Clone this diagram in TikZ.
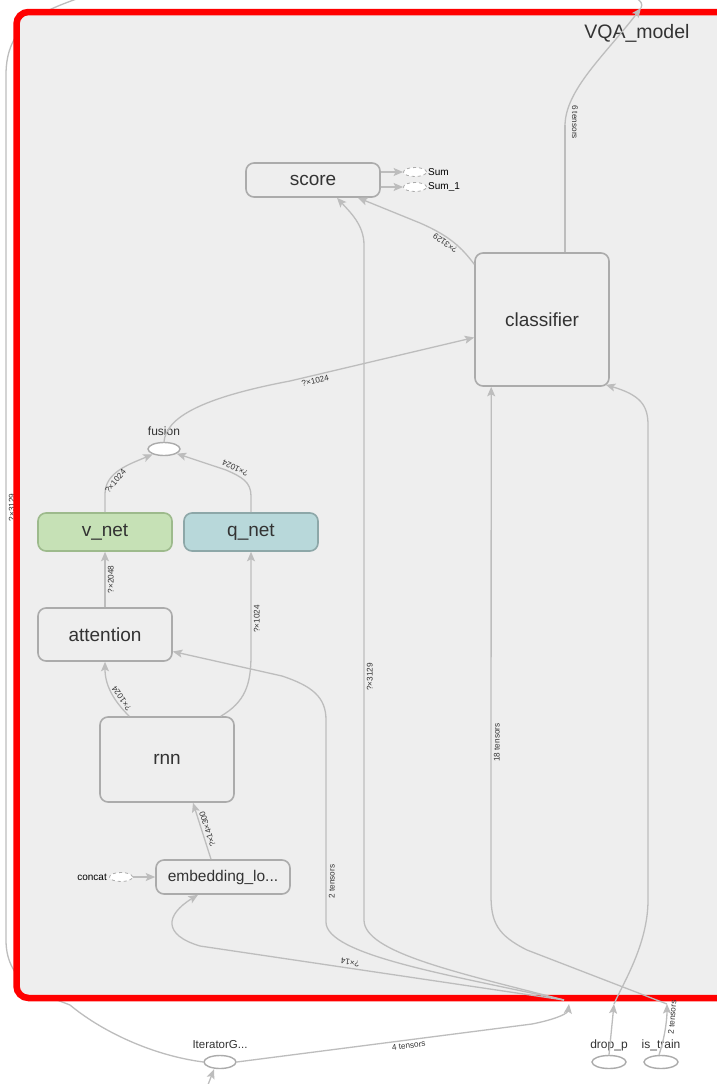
\documentclass[tikz,border=0pt]{standalone}
\usepackage{fontspec}
\setmainfont{Liberation Sans}
\usetikzlibrary{arrows.meta,calc,shapes.geometric,positioning}
\definecolor{bg}{HTML}{EEEEEE}
\definecolor{nodeline}{HTML}{ABABAB}
\definecolor{edgec}{HTML}{BDBDBD}
\definecolor{txt}{HTML}{333333}
\definecolor{vfill}{HTML}{C6E1B6}
\definecolor{vline}{HTML}{9DBA8C}
\definecolor{qfill}{HTML}{B8D8DA}
\definecolor{qline}{HTML}{8DA7A8}
\definecolor{framered}{HTML}{FF0000}
\begin{document}
\begin{tikzpicture}[x=1pt,y=-1pt,
  box/.style={draw=nodeline, line width=1.6pt, rounded corners=8pt, fill=bg, text=txt,
    font=\fontsize{19}{22}\selectfont, minimum width=134pt, inner sep=0pt},
  opnode/.style={draw=nodeline, line width=1.4pt, fill=white, ellipse, inner sep=0pt,
    minimum width=32pt, minimum height=13pt},
  dashnode/.style={draw=nodeline, line width=0.8pt, dashed, fill=white, ellipse, inner sep=0pt,
    minimum width=23pt, minimum height=9pt},
  nlabel/.style={text=txt, font=\fontsize{12}{14}\selectfont, inner sep=0pt},
  slabel/.style={text=black, font=\fontsize{10}{12}\selectfont, inner sep=0pt},
  edge/.style={draw=edgec, line width=1.3pt, -{Stealth[length=9.5pt,width=8pt,inset=2pt]}},
  edgeline/.style={draw=edgec, line width=1.3pt},
  lab/.style={text=txt, font=\fontsize{8.2}{9}\selectfont, sloped, allow upside down, inner sep=2.2pt}
]
\useasboundingbox[fill=white] (0,0) rectangle (716,1084);

% line along the left, behind the frame
\node[opnode] (iter) at (220,1062) {};
\draw[edgeline] (82,-3) .. controls (40,12) and (6,25) .. (6,75) -- (6,940)
  node[lab, pos=0.5, below, sloped=false, rotate=90] {?×3129}
  .. controls (6,985) and (45,995) .. (70,1005) .. controls (100,1030) and (150,1055) .. (iter.west);

% group frame
\draw[draw=framered, line width=6.5pt, fill=bg, rounded corners=12pt] (16.5,12) rectangle (740,998);
\node[text=txt, font=\fontsize{19.5}{22}\selectfont, anchor=east] (title) at (693,33) {VQA\_model};

% nodes
\node[box, minimum height=34pt] (score) at (313,180) {score};
\node[box, minimum height=133pt] (classifier) at (542,319.5) {classifier};
\node[opnode] (fusion) at (164,449) {};
\node[nlabel] (fusionl) at (164,431) {fusion};
\node[box, minimum height=38pt, fill=vfill, draw=vline] (vnet) at (105,532) {v\_net};
\node[box, minimum height=38pt, fill=qfill, draw=qline] (qnet) at (251,532) {q\_net};
\node[box, minimum height=53pt] (attention) at (105,634.5) {attention};
\node[box, minimum height=85pt] (rnn) at (167,759.5) {rnn};
\node[box, minimum height=34pt, font=\fontsize{15.5}{18}\selectfont] (embed) at (223,877) {embedding\_lo...};
\node[dashnode] (sumA) at (415,172) {};
\node[dashnode] (sumB) at (415,187) {};
\node[slabel, anchor=west] (sumAl) at (428,172) {Sum};
\node[slabel, anchor=west] (sumBl) at (428,187) {Sum\_1};
\node[dashnode] (concat) at (121,877) {};
\node[slabel, anchor=east] (concatl) at (107,877) {concat};
\node[nlabel, font=\fontsize{11.5}{14}\selectfont] (iterl) at (220,1045) {IteratorG...};
\node[opnode, minimum width=34pt] (drop) at (609,1062) {};
\node[nlabel] (dropl) at (609,1045) {drop\_p};
\node[opnode, minimum width=34pt] (train) at (661,1062) {};
\node[nlabel] (trainl) at (661,1045) {is\_train};

\coordinate (entry) at (569,1004);
\coordinate (hub) at (564,1000);
\coordinate (dropin) at (614,1004);
\coordinate (trainin) at (667,1004);
\coordinate (topout) at (641,8);
\coordinate (topend) at (636,-2);
\coordinate (iterin) at (206,1090);

% edges inside
\draw[edge] (score.east |- sumA) -- (sumA.west);
\draw[edge] (score.east |- sumB) -- (sumB.west);
\draw[edge] ($(classifier.north west)+(0,12)$) .. controls (462,248) and (450,236) .. (420,223)
  node[lab, pos=0.6, above] {?×3129} -- ($(score.south)+(45,0)$);
\draw[edge] (fusion.north) .. controls (166,418) and (200,398) .. (290,381)
  -- ($(classifier.west)+(0,18)$) node[lab, pos=0.13, below] {?×1024};
\draw[edge] (vnet.north) -- (105,494) .. controls (105,472) and (130,464) .. (fusion.205)
  node[lab, pos=0.3, below] {?×1024};
\draw[edge] (qnet.north) -- (251,496) .. controls (251,482) and (242,477) .. (226,470)
  node[lab, pos=0.85, below] {?×1024} -- (fusion.-20);
\draw[edge] (attention.north) -- (vnet.south) node[lab, midway, below] {?×2048};
\draw[edge] ($(rnn.north west)+(30,0)$) .. controls (113,700) and (105,685) .. (attention.south)
  node[lab, pos=0.3, below] {?×1024};
\draw[edge] ($(rnn.north east)+(-14,0)$) .. controls (245,702) and (251,685) .. (251,655)
  -- (qnet.south) node[lab, pos=0.35, below] {?×1024};
\draw[edge] ($(embed.north)+(-12,0)$) -- ($(rnn.south)+(26,0)$) node[lab, midway, below] {?×14×300};
\draw[edge] (concat.east) -- (embed.west);

% edges from the group inputs
\draw[edge] (hub) -- (200,946) node[lab, pos=0.59, below] {?×14}
  .. controls (163,935) and (165,915) .. ($(embed.south)+(-25,0)$);
\draw[edge] (hub) .. controls (450,975) and (326,955) .. (326,922) -- (326,720)
  node[lab, pos=0.2, below] {2 tensors}
  .. controls (326,697) and (312,686) .. (282,676) -- ($(attention.east)+(0,17)$);
\draw[edge] (hub) .. controls (455,972) and (364,952) .. (364,920) -- (364,245)
  node[lab, pos=0.36, below] {?×3129}
  .. controls (364,225) and (350,212) .. ($(score.south)+(24,0)$);
\draw[edge] (trainin) -- (527,950) .. controls (497,935) and (491,922) .. (491,895)
  -- ($(classifier.south west)+(17,0)$) node[lab, pos=0.3, below] {18 tensors};
\draw[edge] (dropin) .. controls (622,985) and (648,945) .. (648,900) -- (648,425)
  .. controls (648,405) and (640,395) .. ($(classifier.south east)+(-4,-2)$);
\draw[edgeline] ($(classifier.north)+(23,0)$) -- (565,125);
\node[lab, sloped=false, rotate=-90] (sixlab) at (575,122) {6 tensors};
\draw[edge] (565,126) .. controls (565,90) and (605,55) .. (topout);
\draw[edgeline] (topout) .. controls (643,4) and (641,1) .. (topend);

% edges outside
\draw[edge] (iter.east) -- (532,1024) node[lab, pos=0.58, below] {4 tensors}
  .. controls (562,1018) and (568,1012) .. (entry);
\draw[edge] (drop.north) -- (dropin);
\draw[edge] ($(train.north)+(-2,0)$) .. controls (664,1040) and (667,1022) .. (trainin)
  node[lab, pos=0.76, below] {2 tensors};
\draw[edge] (iterin) -- ($(iter.south)+(-6,0)$);
\end{tikzpicture}
\end{document}
